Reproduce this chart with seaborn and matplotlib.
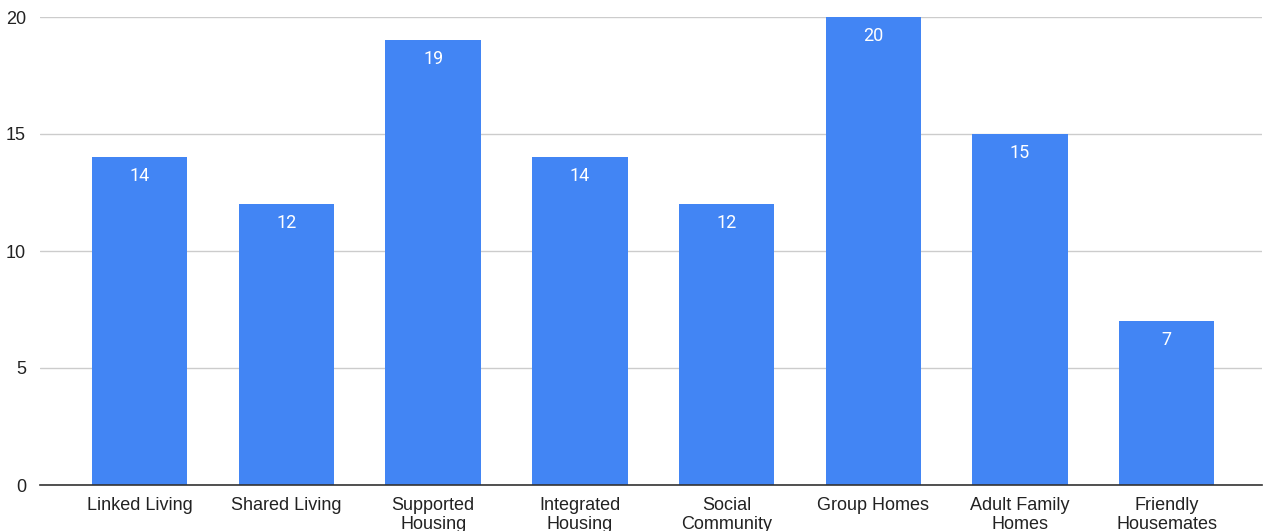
import matplotlib
matplotlib.use("Agg")
import matplotlib.pyplot as plt
import seaborn as sns
import pandas as pd

categories = ["Linked Living", "Shared Living", "Supported\nHousing", "Integrated\nHousing",
              "Social\nCommunity", "Group Homes", "Adult Family\nHomes", "Friendly\nHousemates"]
values = [14, 12, 19, 14, 12, 20, 15, 7]
y_ticks = [0, 5, 10, 15, 20]

sns.set_theme(style="white")
plt.rcParams["font.family"] = ["Liberation Sans", "DejaVu Sans"]

df = pd.DataFrame({"category": categories, "value": values})

fig = plt.figure(figsize=(12.67, 5.31), dpi=100)
ax = fig.add_axes([40 / 1267, 46 / 531, 1222 / 1267, 468 / 531])

sns.barplot(data=df, x="category", y="value", color="#4285F4", saturation=1,
            width=0.65, linewidth=0, ax=ax, zorder=3)

ax.set_xlim(-0.68, 7.65)
ax.set_ylim(0, 20)
ax.set_yticks(y_ticks)
ax.yaxis.grid(True, color="#cccccc", linewidth=1, zorder=0)
ax.set_axisbelow(True)
for s in ["top", "right", "left"]:
    ax.spines[s].set_visible(False)
ax.spines["bottom"].set_color("#333333")
ax.spines["bottom"].set_linewidth(1.2)
ax.spines["bottom"].set_zorder(4)
ax.set_xlabel("")
ax.set_ylabel("")
ax.tick_params(axis="both", length=0, labelsize=13, colors="#222222")
ax.tick_params(axis="x", pad=9)
ax.tick_params(axis="y", pad=10)
for lbl in ax.get_xticklabels():
    lbl.set_linespacing(1.15)
    lbl.set_va("top")

for container in ax.containers:
    ax.bar_label(container, labels=[str(v) for v in values], padding=-20,
                 color="white", fontsize=13, family="Roboto")

fig.savefig("out.png", dpi=100)
